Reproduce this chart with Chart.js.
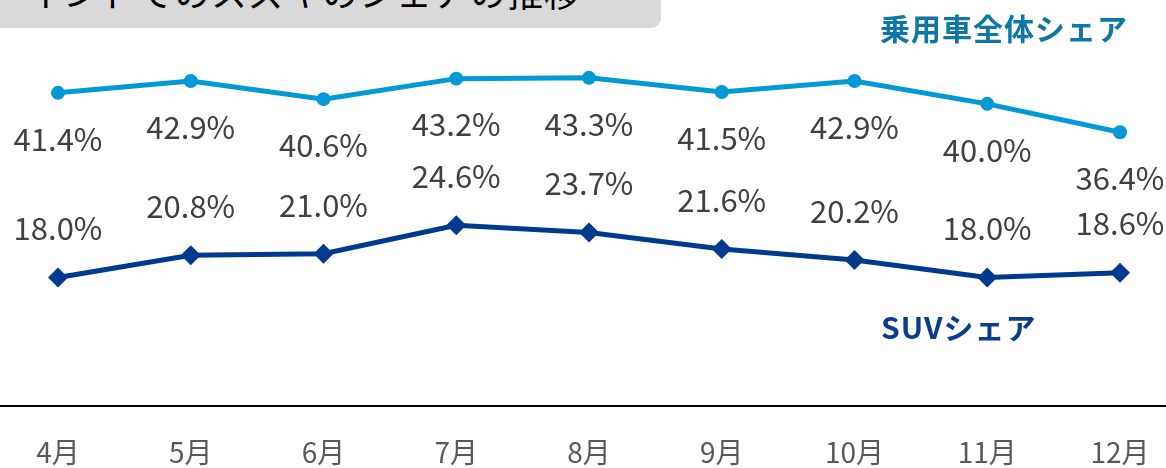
<!DOCTYPE html>
<html>
<head>
<meta charset="utf-8">
<script src="https://cdn.jsdelivr.net/npm/chart.js@4"></script>
<style>
    body { margin: 0; background: #fff; font-family: "Noto Sans CJK JP", sans-serif; }
    #wrap { position: relative; width: 1166px; height: 468px; overflow: hidden; }
    #titleBox {
        position: absolute; left: 0; top: 0; width: 661px; height: 28px;
        background: #d9d9d9; border-bottom-right-radius: 10px; overflow: hidden;
    }
    #titleBox span {
        position: absolute; left: 26px; top: -27px; font-size: 36px; line-height: 1;
        color: #000; white-space: nowrap; letter-spacing: 1px;
    }
    .tag { position: absolute; font-weight: bold; font-size: 30px; line-height: 1; white-space: nowrap; letter-spacing: 1px; }
    #tagAll { left: 880px; top: 12px; color: #0e77a7; }
    #tagSuv { left: 881px; top: 311px; color: #0b3b8f; }
    canvas { position: absolute; left: 0; top: 0; }
</style>
</head>
<body>
<div id="wrap">
    <canvas id="shareChart" width="1166" height="468"></canvas>
    <div id="titleBox"><span>インドでのスズキのシェアの推移</span></div>
    <div class="tag" id="tagAll">乗用車全体シェア</div>
    <div class="tag" id="tagSuv">SUVシェア</div>
</div>
<script>
var months = ['4月', '5月', '6月', '7月', '8月', '9月', '10月', '11月', '12月'];
var totalShare = [41.4, 42.9, 40.6, 43.2, 43.3, 41.5, 42.9, 40.0, 36.4];
var suvShare = [18.0, 20.8, 21.0, 24.6, 23.7, 21.6, 20.2, 18.0, 18.6];

// labels: below the points for the upper line, above for the lower line
var labelOffsets = [46, -49];

var valueLabels = {
    id: 'valueLabels',
    afterDatasetsDraw: function(chart) {
        var ctx = chart.ctx;
        ctx.save();
        ctx.font = '31px "Noto Sans CJK JP"';
        ctx.fillStyle = '#404040';
        ctx.textAlign = 'center';
        ctx.textBaseline = 'middle';
        chart.data.datasets.forEach(function(ds, i) {
            var meta = chart.getDatasetMeta(i);
            meta.data.forEach(function(pt, j) {
                ctx.fillText(ds.data[j].toFixed(1) + '%', pt.x, pt.y + labelOffsets[i]);
            });
        });
        ctx.restore();
    }
};

var axisLine = {
    id: 'axisLine',
    beforeDatasetsDraw: function(chart) {
        var ctx = chart.ctx;
        var y = chart.chartArea.bottom;
        ctx.save();
        ctx.strokeStyle = '#000';
        ctx.lineWidth = 2;
        ctx.beginPath();
        ctx.moveTo(0, y);
        ctx.lineTo(chart.width, y);
        ctx.stroke();
        ctx.restore();
    }
};

var ctx = document.getElementById('shareChart').getContext('2d');
new Chart(ctx, {
    type: 'line',
    data: {
        labels: months,
        datasets: [{
            label: '乗用車全体シェア',
            data: totalShare,
            borderColor: '#0399d6',
            backgroundColor: '#0399d6',
            borderWidth: 5,
            pointStyle: 'circle',
            pointRadius: 7,
            pointBorderWidth: 0
        }, {
            label: 'SUVシェア',
            data: suvShare,
            borderColor: '#003a8f',
            backgroundColor: '#003a8f',
            borderWidth: 5,
            pointStyle: 'rectRot',
            pointRadius: 10,
            pointBorderWidth: 0
        }]
    },
    options: {
        responsive: false,
        animation: false,
        layout: { padding: { left: 58, right: 46, top: 0, bottom: 0 } },
        plugins: {
            legend: { display: false },
            tooltip: { enabled: false }
        },
        scales: {
            x: {
                offset: false,
                grid: { display: false, drawTicks: false },
                border: { display: false },
                ticks: {
                    color: '#595959',
                    font: { family: 'Noto Sans CJK JP', size: 28 },
                    padding: 30,
                    maxRotation: 0,
                    autoSkip: false
                },
                afterFit: function(scale) {
                    scale.height = 62;
                    scale.paddingLeft = 0;
                    scale.paddingRight = 0;
                }
            },
            y: {
                display: false,
                min: 1.7,
                max: 51.9
            }
        }
    },
    plugins: [axisLine, valueLabels]
});
</script>
</body>
</html>
